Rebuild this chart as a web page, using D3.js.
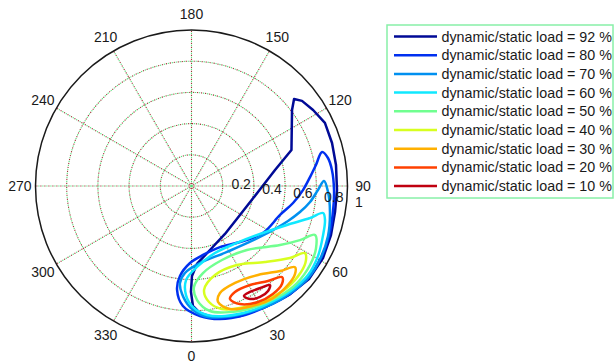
<!DOCTYPE html>
<html>
<head>
<meta charset="utf-8">
<script src="https://cdnjs.cloudflare.com/ajax/libs/d3/7.8.5/d3.min.js"></script>
<style>
body { margin: 0; background: #fff; }
text { font-family: "Liberation Sans", Arial, sans-serif; font-size: 14px; fill: #1a1a1a; }
</style>
</head>
<body>
<script>
var w = 614;
var h = 364;

// polar axis ticks
var angleTicks = [0, 30, 60, 90, 120, 150, 180, 210, 240, 270, 300, 330];
var radialTicks = [0.2, 0.4, 0.6, 0.8, 1];

// load levels (legend order) and their colours
var loadLevels = [92, 80, 70, 60, 50, 40, 30, 20, 10];
var loadColors = ['#000a96', '#0030f0', '#0090f0', '#10e8ff', '#70ff90',
                  '#d8ff20', '#ffb000', '#ff4000', '#c00010'];

// contours as [angle in degrees, radius]
var load92 = [[130.3,0.862],[127.1,0.808],[109.8,0.681],[100.8,0.545],[84.8,0.428],
              [59.1,0.362],[34.9,0.375],[16.1,0.427],[4.0,0.501],[0.3,0.577],
              [359.7,0.679],[0.7,0.769],[3.8,0.816],[10.1,0.859],[20.5,0.890],
              [31.3,0.908],[41.8,0.937],[51.6,0.961],[61.3,0.961],[70.6,0.948],
              [79.7,0.935],[88.4,0.933],[98.3,0.936],[107.0,0.942],[115.3,0.946],
              [122.0,0.919],[127.6,0.894]];
var load80 = [[104.6,0.865],[99.6,0.809],[94.3,0.762],[87.9,0.715],[80.5,0.660],
              [71.9,0.597],[56.7,0.548],[40.9,0.475],[25.0,0.432],[9.5,0.448],
              [358.9,0.494],[352.7,0.582],[352.1,0.673],[355.9,0.771],[3.7,0.835],
              [12.1,0.872],[22.5,0.895],[32.5,0.912],[42.4,0.937],[51.7,0.951],
              [60.9,0.950],[70.0,0.938],[79.6,0.922],[88.4,0.914],[96.5,0.906],
              [101.6,0.893]];
var load70 = [[92.2,0.850],[88.2,0.811],[82.3,0.767],[76.5,0.715],[70.1,0.658],
              [53.3,0.547],[28.3,0.480],[6.3,0.497],[355.7,0.559],[353.2,0.626],
              [355.0,0.695],[359.3,0.776],[5.5,0.837],[14.3,0.867],[24.9,0.890],
              [34.3,0.916],[43.5,0.936],[52.2,0.953],[61.3,0.947],[69.9,0.932],
              [79.4,0.903],[87.5,0.876]];
var load60 = [[78.4,0.861],[74.9,0.787],[67.8,0.661],[55.0,0.536],[38.6,0.467],
              [19.3,0.455],[3.9,0.520],[356.7,0.604],[357.1,0.700],[0.7,0.776],
              [6.9,0.833],[14.5,0.861],[25.1,0.885],[34.8,0.905],[44.0,0.927],
              [52.6,0.940],[61.0,0.927],[69.6,0.900],[75.7,0.883]];
var load50 = [[68.4,0.852],[63.5,0.777],[56.3,0.682],[40.9,0.543],[22.4,0.513],
              [7.5,0.563],[1.4,0.648],[2.8,0.732],[8.4,0.810],[17.0,0.845],
              [27.7,0.876],[37.9,0.902],[47.4,0.919],[56.3,0.913],[63.5,0.892]];
var load40 = [[59.4,0.845],[53.8,0.782],[44.0,0.678],[29.9,0.584],[14.8,0.590],
              [6.9,0.671],[8.6,0.752],[13.9,0.812],[23.9,0.848],[34.1,0.875],
              [43.7,0.895],[51.9,0.893],[57.1,0.874]];
var load30 = [[51.9,0.843],[46.2,0.787],[36.8,0.712],[24.2,0.681],[14.9,0.710],
              [12.9,0.763],[17.4,0.826],[26.8,0.862],[36.0,0.888],[44.3,0.886],
              [49.6,0.871]];
var load20 = [[44.8,0.823],[38.8,0.782],[30.6,0.737],[22.3,0.734],[18.8,0.765],
              [22.3,0.818],[29.8,0.857],[37.0,0.867],[42.7,0.855]];
var load10 = [[38.4,0.810],[33.9,0.788],[28.9,0.776],[25.5,0.781],[27.4,0.816],
              [31.7,0.836],[36.1,0.833]];

var contours = [load92, load80, load70, load60, load50, load40, load30, load20, load10];

var cx = 191.5, cy = 186, R = 156;

var svg = d3.select('body')
            .append('svg')
            .attr('width', w)
            .attr('height', h);

var rScale = d3.scaleLinear().domain([0, 1]).range([0, R]);
// 0 deg at the bottom, counterclockwise; lineRadial measures clockwise from the top
var aScale = d3.scaleLinear().domain([0, 360]).range([Math.PI, -Math.PI]);

function px(a, r) { return cx + rScale(r) * Math.sin(aScale(a)); }
function py(a, r) { return cy - rScale(r) * Math.cos(aScale(a)); }

var plot = svg.append('g').attr('transform', 'translate(' + cx + ',' + cy + ')');

// dotted grid, dots alternate green / dark red like the original
var gridColors = [['#55e07a', 0], ['#a03838', 2]];
gridColors.forEach(function(gc) {
    plot.selectAll(null)
        .data(radialTicks.slice(0, -1))
        .enter()
        .append('circle')
        .attr('r', function(d) { return rScale(d); })
        .attr('fill', 'none')
        .attr('stroke', gc[0])
        .attr('stroke-width', 1.1)
        .attr('stroke-dasharray', '1.2,2.8')
        .attr('stroke-dashoffset', gc[1]);
    plot.selectAll(null)
        .data(angleTicks)
        .enter()
        .append('line')
        .attr('x1', 0).attr('y1', 0)
        .attr('x2', function(d) { return rScale(1) * Math.sin(aScale(d)); })
        .attr('y2', function(d) { return -rScale(1) * Math.cos(aScale(d)); })
        .attr('stroke', gc[0])
        .attr('stroke-width', 1.1)
        .attr('stroke-dasharray', '1.2,2.8')
        .attr('stroke-dashoffset', gc[1]);
});

plot.append('circle')
    .attr('r', rScale(1))
    .attr('fill', 'none')
    .attr('stroke', '#1a1a1a')
    .attr('stroke-width', 1.5);

// angle labels
svg.selectAll('.alabel')
   .data(angleTicks)
   .enter()
   .append('text')
   .attr('class', 'alabel')
   .attr('x', function(d) { return px(d, 1.1); })
   .attr('y', function(d) { return Math.min(py(d, 1.1) + 5, h - 3.5); })
   .attr('text-anchor', 'middle')
   .text(function(d) { return d; });

// radial labels along 82 deg
svg.selectAll('.rlabel')
   .data(radialTicks)
   .enter()
   .append('text')
   .attr('class', 'rlabel')
   .attr('x', function(d) { return px(82, d) + 9; })
   .attr('y', function(d) { return py(82, d) - 1; })
   .text(function(d) { return d; });

// contour lines
var line = d3.lineRadial()
             .angle(function(d) { return aScale(d[0]); })
             .radius(function(d) { return rScale(d[1]); });

plot.selectAll('.contour')
    .data(contours)
    .enter()
    .append('path')
    .attr('class', 'contour')
    .attr('d', function(d, i) {
        return line.curve(i == 0 ? d3.curveLinearClosed : d3.curveCatmullRomClosed.alpha(0.5))(d);
    })
    .attr('fill', 'none')
    .attr('stroke', function(d, i) { return loadColors[i]; })
    .attr('stroke-width', 2.5)
    .attr('stroke-linejoin', 'round');

// legend
var legend = svg.append('g');
legend.append('rect')
      .attr('x', 387).attr('y', 25)
      .attr('width', 226).attr('height', 173)
      .attr('fill', '#fff')
      .attr('stroke', '#88f0a8')
      .attr('stroke-width', 1.5);

var rows = legend.selectAll('.row')
                 .data(loadLevels)
                 .enter()
                 .append('g')
                 .attr('transform', function(d, i) { return 'translate(0,' + (36.5 + i * 18.7) + ')'; });
rows.append('line')
    .attr('x1', 394).attr('x2', 437)
    .attr('stroke', function(d, i) { return loadColors[i]; })
    .attr('stroke-width', 2.5);
rows.append('text')
    .attr('x', 441.5)
    .attr('y', 5)
    .style('font-size', '14.3px')
    .text(function(d) { return 'dynamic/static load = ' + d + ' %'; });
</script>
</body>
</html>
